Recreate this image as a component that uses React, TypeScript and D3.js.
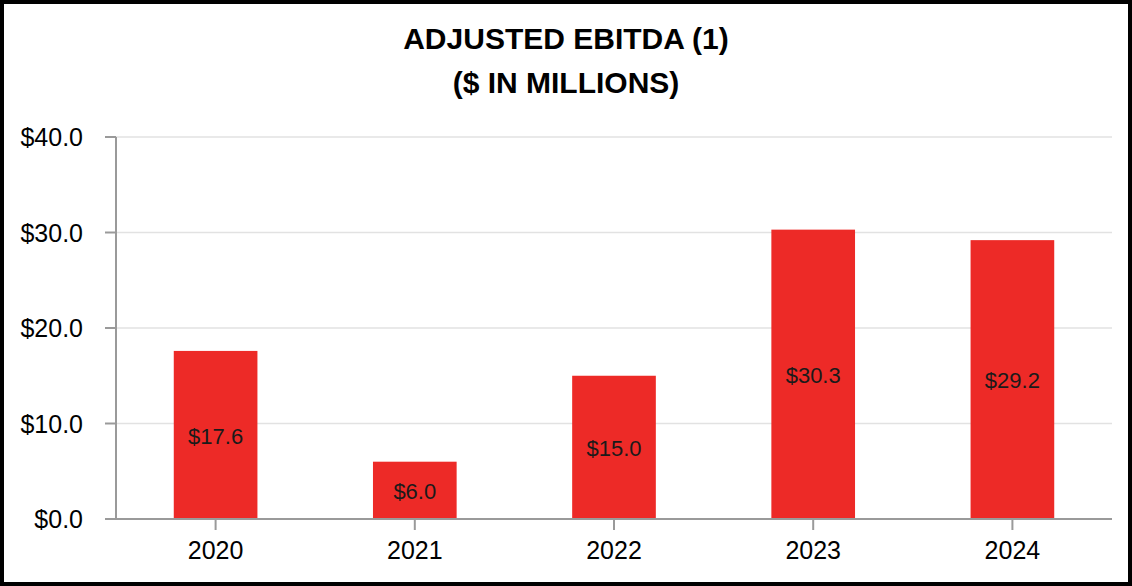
import React from "react";
import * as d3 from "d3";

const years = ["2020", "2021", "2022", "2023", "2024"];
const ebitda = [17.6, 6.0, 15.0, 30.3, 29.2];
const yTicks = [0, 10, 20, 30, 40];
const titleLines = ["ADJUSTED EBITDA (1)", "($ IN MILLIONS)"];

const W = 1132;
const H = 586;
const plot = { left: 116, right: 1112, top: 137, bottom: 519 };

export default function App() {
  const x = d3
    .scaleBand<string>()
    .domain(years)
    .range([plot.left, plot.right])
    .paddingInner(0.58)
    .paddingOuter(0.29);
  const y = d3.scaleLinear().domain([0, 40]).range([plot.bottom, plot.top]);
  const fmt = (v: number) => "$" + d3.format(".1f")(v);
  const axisColor = "#9a9a9a";

  return (
    <svg
      width={W}
      height={H}
      style={{ position: "absolute", left: 0, top: 0, background: "#fff" }}
    >
      <rect x={0} y={0} width={W} height={H} fill="#fff" />
      <rect x={2} y={2} width={W - 4} height={H - 4} fill="none" stroke="#000" strokeWidth={4} />

      {titleLines.map((t, i) => (
        <text
          key={t}
          x={566}
          y={49 + i * 44}
          textAnchor="middle"
          fontFamily="'Liberation Sans', Arial, sans-serif"
          fontWeight="bold"
          fontSize={30}
          fill="#000"
        >
          {t}
        </text>
      ))}

      {yTicks.map((t) => (
        <g key={t}>
          {t > 0 && (
            <line
              x1={plot.left}
              x2={plot.right}
              y1={y(t)}
              y2={y(t)}
              stroke="#e2e2e2"
              strokeWidth={1.5}
            />
          )}
          <line x1={105} x2={plot.left} y1={y(t)} y2={y(t)} stroke={axisColor} strokeWidth={2} />
          <text
            x={83}
            y={y(t)}
            dy="0.36em"
            textAnchor="end"
            fontFamily="'Liberation Sans', Arial, sans-serif"
            fontSize={25}
            fill="#000"
          >
            {fmt(t)}
          </text>
        </g>
      ))}

      {years.map((yr, i) => {
        const v = ebitda[i];
        const bx = x(yr) as number;
        const bw = x.bandwidth();
        return (
          <g key={yr}>
            <rect x={bx} y={y(v)} width={bw} height={y(0) - y(v)} fill="#ED2A27" />
            <text
              x={bx + bw / 2}
              y={(y(v) + y(0)) / 2 + 1}
              dy="0.36em"
              textAnchor="middle"
              fontFamily="'Liberation Sans', Arial, sans-serif"
              fontSize={22}
              fill="#1a1a1a"
            >
              {fmt(v)}
            </text>
            <line
              x1={bx + bw / 2}
              x2={bx + bw / 2}
              y1={plot.bottom}
              y2={530}
              stroke={axisColor}
              strokeWidth={2}
            />
            <text
              x={bx + bw / 2}
              y={559}
              textAnchor="middle"
              fontFamily="'Liberation Sans', Arial, sans-serif"
              fontSize={25}
              fill="#000"
            >
              {yr}
            </text>
          </g>
        );
      })}

      <line x1={plot.left} x2={plot.left} y1={plot.top} y2={plot.bottom} stroke={axisColor} strokeWidth={2} />
      <line x1={105} x2={plot.right} y1={plot.bottom} y2={plot.bottom} stroke={axisColor} strokeWidth={2} />
    </svg>
  );
}
